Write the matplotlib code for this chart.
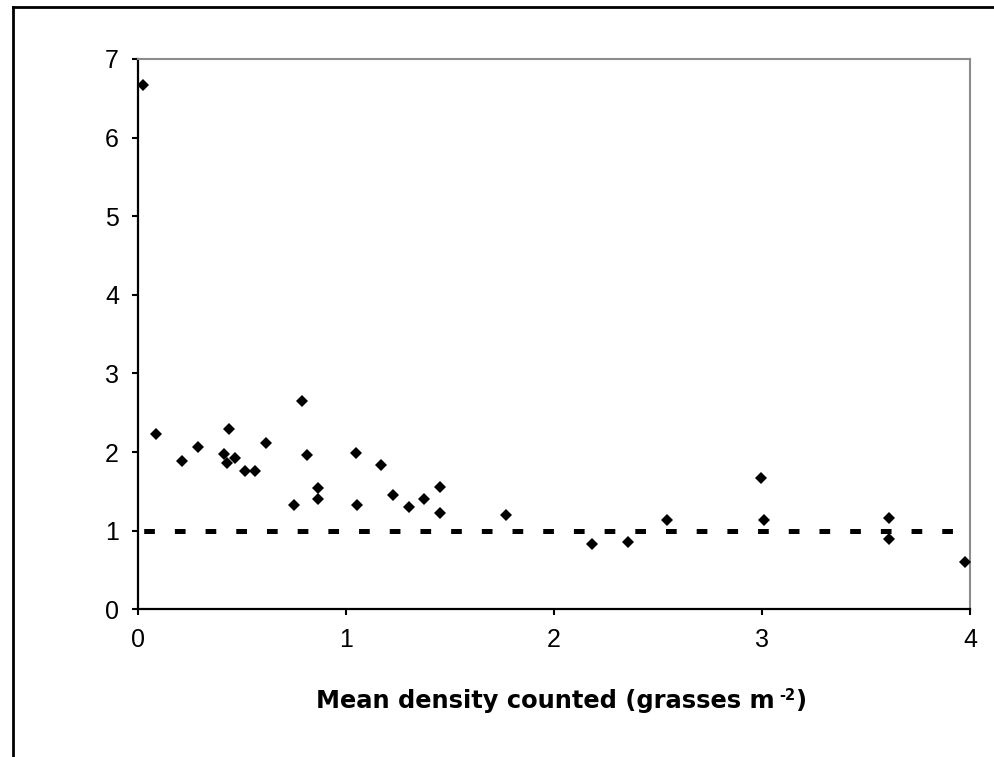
import matplotlib
matplotlib.use("Agg")
import matplotlib.pyplot as plt
from matplotlib.lines import Line2D

plt.rcParams['font.family'] = ['Liberation Sans', 'DejaVu Sans']
plt.rcParams['lines.scale_dashes'] = False

# Data
density = [0.027, 0.088, 0.213, 0.288, 0.415, 0.428, 0.440, 0.466, 0.514, 0.566,
           0.615, 0.751, 0.788, 0.815, 0.867, 0.867, 1.051, 1.054, 1.168, 1.229,
           1.304, 1.378, 1.453, 1.453, 1.769, 2.183, 2.357, 2.546, 3.011, 2.995,
           3.610, 3.610, 3.976]
ratio = [6.67, 2.23, 1.89, 2.06, 1.97, 1.86, 2.29, 1.92, 1.76, 1.76,
         2.12, 1.33, 2.65, 1.96, 1.54, 1.40, 1.99, 1.33, 1.83, 1.46,
         1.30, 1.40, 1.56, 1.23, 1.20, 0.83, 0.86, 1.13, 1.13, 1.67,
         1.16, 0.89, 0.60]
ref_x = [0, 4]
ref_y = [1, 1]
x_ticks = [0, 1, 2, 3, 4]
y_ticks = [0, 1, 2, 3, 4, 5, 6, 7]
label_main = "Mean density counted (grasses m"
label_sup = "-2"
label_end = ")"

W, H = 995, 757
fig = plt.figure(figsize=(W / 100, H / 100), dpi=100)
ax = fig.add_axes([137.7 / W, 1 - 609.3 / H, (970 - 137.7) / W, (609.3 - 59) / H])

ax.plot(ref_x, ref_y, color='black', linewidth=3.6,
        linestyle=(18, (7.7, 14.4)), dash_capstyle='butt', zorder=2, clip_on=False)
ax.plot(density, ratio, linestyle='none', marker='D', markersize=6.5,
        markerfacecolor='black', markeredgewidth=0, zorder=3, clip_on=False)

ax.set_xlim(0, 4)
ax.set_ylim(0, 7)
ax.set_xticks(x_ticks)
ax.set_yticks(y_ticks)
ax.set_xticklabels([str(v) for v in x_ticks], fontfamily='Liberation Sans')
ax.set_yticklabels([str(v) for v in y_ticks], fontfamily='Liberation Sans')
ax.tick_params(axis='both', direction='out', length=4.5, width=1.5, labelsize=18,
               color='black', pad=9)

for s in ['left', 'bottom']:
    ax.spines[s].set_color('black')
    ax.spines[s].set_linewidth(1.6)
for s in ['top', 'right']:
    ax.spines[s].set_color('#8c8c8c')
    ax.spines[s].set_linewidth(1.5)

# x-axis title built from pieces (bold text with a small raised "-2")
fig.canvas.draw()
r = fig.canvas.get_renderer()
base_y = 1 - 708 / H
t1 = fig.text(0, base_y, label_main, fontsize=17.4, va='baseline', ha='left',
              fontfamily='DejaVu Sans', fontweight='bold')
t2 = fig.text(0, base_y + 8 / H, label_sup, fontsize=10.5, va='baseline', ha='left',
              fontfamily='DejaVu Sans', fontweight='bold')
t3 = fig.text(0, base_y, label_end, fontsize=17.4, va='baseline', ha='left',
              fontfamily='DejaVu Sans', fontweight='bold')
w1 = t1.get_window_extent(r).width
w2 = t2.get_window_extent(r).width
w3 = t3.get_window_extent(r).width
gap = 5
total = w1 + gap + w2 + w3
x0 = 561 - total / 2
t1.set_x(x0 / W)
t2.set_x((x0 + w1 + gap) / W)
t3.set_x((x0 + w1 + gap + w2) / W)

# outer chart-area border (left and top edges visible)
fig.add_artist(Line2D([13 / W, 13 / W], [0, 1 - 7 / H], transform=fig.transFigure,
                      color='black', linewidth=2))
fig.add_artist(Line2D([13 / W, 1], [1 - 7 / H, 1 - 7 / H], transform=fig.transFigure,
                      color='black', linewidth=2))

fig.savefig("out.png", dpi=100)
